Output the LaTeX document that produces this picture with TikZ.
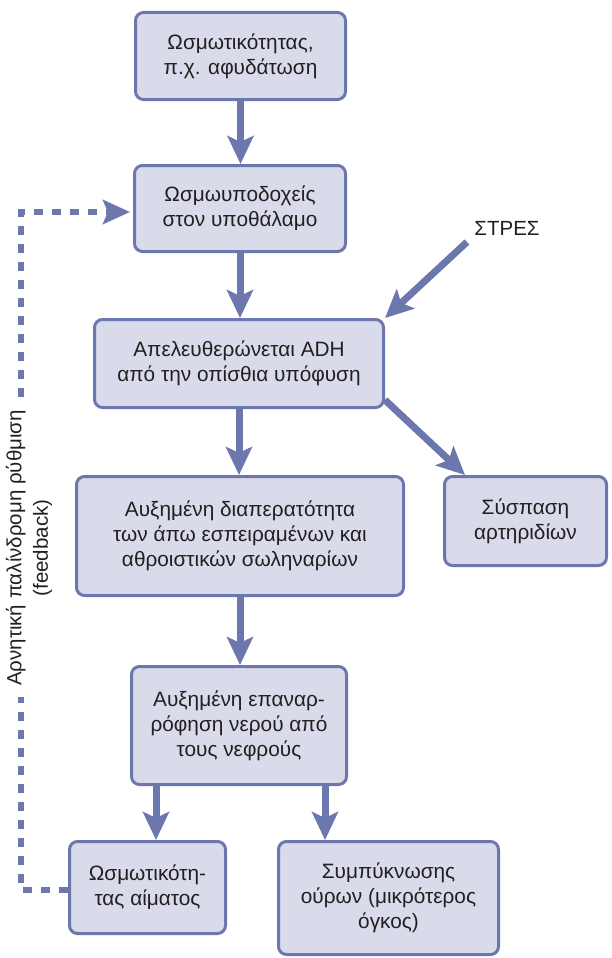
\documentclass[tikz,border=0pt]{standalone}
\usepackage{fontspec}
\setmainfont{Liberation Sans}
\usetikzlibrary{arrows.meta,calc}
\definecolor{boxfill}{HTML}{D9DBEB}
\definecolor{edge}{HTML}{6C77AD}
\definecolor{ink}{HTML}{231F20}
\pgfdeclarelayer{bg}
\pgfsetlayers{bg,main}
\begin{document}
\begin{tikzpicture}[x=1pt,y=-1pt,
  box/.style={draw=edge, fill=boxfill, line width=3pt, rounded corners=8pt,
    align=center, text=ink, font=\fontsize{20.8}{25}\selectfont, inner sep=0pt},
  plainlbl/.style={text=ink, font=\fontsize{20.5}{25}\selectfont, inner sep=0pt},
  arr/.style={draw=edge, line width=7pt, -{Stealth[length=28pt,width=26pt,inset=6pt]}},
  fbline/.style={draw=edge, line width=6.5pt, dash pattern=on 9pt off 9pt,
    -{Stealth[length=27pt,width=24pt,inset=5pt]}, shorten >=3pt},
  fblabel/.style={text=ink, font=\fontsize{20.5}{26.5}\selectfont, align=center,
    rotate=90, fill=white, inner xsep=11pt, inner ysep=2pt},
]
\useasboundingbox (0,0) rectangle (612,958);

\node[box, minimum width=210pt, minimum height=87pt] (b1) at (240.5,56) {Ωσμωτικότητας,\\π.χ. αφυδάτωση};
\node[box, minimum width=211pt, minimum height=86pt] (b2) at (240,208.5) {Ωσμωυποδοχείς\\στον υποθάλαμο};
\node[box, minimum width=289pt, minimum height=88pt] (b3) at (239,363.5) {Απελευθερώνεται ADH\\από την οπίσθια υπόφυση};
\node[box, minimum width=162pt, minimum height=89pt] (b4) at (525.5,521) {Σύσπαση\\αρτηριδίων};
\node[box, minimum width=327pt, minimum height=119pt] (b5) at (240,536) {Αυξημένη διαπερατότητα\\των άπω εσπειραμένων και\\αθροιστικών σωληναρίων};
\node[box, minimum width=215pt, minimum height=118pt] (b6) at (239,725.5) {Αυξημένη επαναρ-\\ρόφηση νερού από\\τους νεφρούς};
\node[box, minimum width=156pt, minimum height=92pt] (b7) at (147.5,887.5) {Ωσμωτικότη-\\τας αίματος};
\node[box, minimum width=220pt, minimum height=113pt] (b8) at (388.5,898) {Συμπύκνωσης\\ούρων (μικρότερος\\όγκος)};

\node[plainlbl] (stress) at (507,228) {ΣΤΡΕΣ};
\coordinate (st) at (467,242);
\node[fblabel] (fbl) at (29,548) {Αρνητική παλίνδρομη ρύθμιση\\(feedback)};

\coordinate (s1) at ([xshift=-83pt]b6.south);
\coordinate (s2) at ([xshift=86pt]b6.south);
\coordinate (d0) at ($(b3.south east)+(0,-9)$);
\coordinate (d1) at ([xshift=-60.5pt]b4.north);
\coordinate (fa) at (21,890);
\coordinate (fb) at (21,212);

\begin{pgfonlayer}{bg}
\draw[arr] (b1.south) -- (b1.south |- b2.north);
\draw[arr] (b2.south) -- (b2.south |- b3.north);
\draw[arr] (b3.south) -- (b3.south |- b5.north);
\draw[arr] (b5.south) -- (b5.south |- b6.north);
\draw[arr] (s1) -- (s1 |- b7.north);
\draw[arr] (s2) -- (s2 |- b8.north);
\draw[arr] (st) -- (b3.north east);
\draw[arr] (d0) -- (d1);
\draw[fbline] (fa -| b7.west) -- (fa) -- (fb) -- (fb -| b2.west);
\end{pgfonlayer}
\end{tikzpicture}
\end{document}
